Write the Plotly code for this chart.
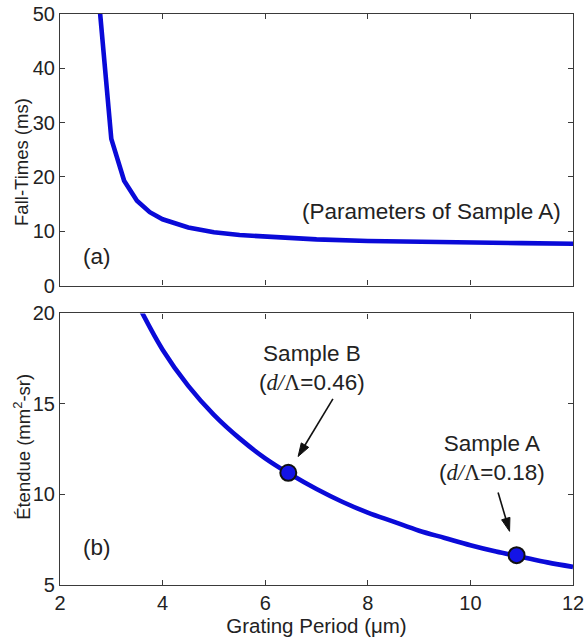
import plotly.graph_objects as go
from plotly.subplots import make_subplots

# (a) fall time vs grating period
period_a = [2.75, 3.0, 3.25, 3.5, 3.75, 4.0, 4.5, 5.0, 5.5, 6.0, 6.5, 7.0, 8.0, 9.0, 10.0, 11.0, 12.0]
fall_time = [53.5, 27.0, 19.3, 15.6, 13.5, 12.2, 10.7, 9.8, 9.3, 9.0, 8.75, 8.5, 8.2, 8.0, 7.9, 7.8, 7.7]

# (b) etendue vs grating period
period_b = [3.5, 4.0, 4.5, 5.0, 5.5, 6.0, 6.5, 7.0, 7.5, 8.0, 8.5, 9.0, 9.5, 10.0, 10.5, 11.0, 11.5, 12.0]
etendue = [20.6, 18.0, 16.0, 14.4, 13.1, 12.0, 11.1, 10.3, 9.6, 9.0, 8.5, 8.0, 7.6, 7.2, 6.85, 6.55, 6.25, 6.0]

# measured samples
sample_names = ["Sample B", "Sample A"]
sample_ratio = ["0.46", "0.18"]
sample_period = [6.45, 10.9]
sample_etendue = [11.2, 6.65]

x_ticks = [2, 4, 6, 8, 10, 12]

BLUE = "#0a0ad8"
FONT = "Liberation Sans, Arial, sans-serif"
SERIF = "Liberation Serif, Times New Roman, serif"
AX = "#3a3a3a"
INK = "#222"

fig = make_subplots(rows=2, cols=1, vertical_spacing=0.049)

fig.add_trace(go.Scatter(x=period_a, y=fall_time, mode="lines",
                         line=dict(color=BLUE, width=4.6), showlegend=False), row=1, col=1)
fig.add_trace(go.Scatter(x=period_b, y=etendue, mode="lines", line_shape="spline",
                         line=dict(color=BLUE, width=4.6), showlegend=False), row=2, col=1)

# pointer arrows: tail near each label, head stopping short of the sample marker
arrow_tail = [(7.32, 15.28), (10.54, 10.11)]
arrow_reach = [0.78, 0.62]
for (tx, ty), px, py, f in zip(arrow_tail, sample_period, sample_etendue, arrow_reach):
    hx = tx + f * (px - tx)
    hy = ty + f * (py - ty)
    fig.add_trace(go.Scatter(x=[tx, hx], y=[ty, hy], mode="lines+markers",
                             line=dict(color="#111", width=1.6),
                             marker=dict(symbol="arrow", size=14, color="#111",
                                         opacity=[0, 1], angleref="previous",
                                         line=dict(color="#111", width=1)),
                             showlegend=False, hoverinfo="skip"), row=2, col=1)

fig.add_trace(go.Scatter(x=sample_period, y=sample_etendue, mode="markers",
                         marker=dict(size=16, color="#1414e6", line=dict(color="#111", width=2)),
                         showlegend=False), row=2, col=1)

axis_style = dict(showline=True, linecolor=AX, linewidth=1.2, mirror="ticks",
                  ticks="inside", ticklen=5, tickcolor=AX, showgrid=False, zeroline=False,
                  automargin=False, tickfont=dict(family=FONT, size=20, color=INK))

fig.update_xaxes(range=[2, 12], tickvals=x_ticks, **axis_style)
fig.update_xaxes(showticklabels=False, row=1, col=1)
fig.update_xaxes(title=dict(text="Grating Period (μm)", font=dict(family=FONT, size=20.5, color=INK),
                            standoff=0), row=2, col=1)
fig.update_yaxes(**axis_style)
fig.update_yaxes(range=[0, 50], tickvals=[0, 10, 20, 30, 40, 50], row=1, col=1)
fig.update_yaxes(range=[5, 20], tickvals=[5, 10, 15, 20], row=2, col=1)

txt = dict(family=FONT, size=22.5, color=INK)
ytitle_font = dict(family=FONT, size=18.5, color=INK)
ann = [
    # vertical axis titles
    dict(x=-0.074, y=0.741, xref="paper", yref="paper", text="Fall-Times (ms)", textangle=-90,
         xanchor="center", yanchor="middle", showarrow=False, font=ytitle_font),
    dict(x=-0.074, y=0.242, xref="paper", yref="paper", text="Étendue (mm<sup>2</sup>-sr)",
         textangle=-90, xanchor="center", yanchor="middle", showarrow=False, font=ytitle_font),
    # panel notes
    dict(x=9.25, y=13.7, xref="x", yref="y", text="(Parameters of Sample A)", showarrow=False, font=txt),
    dict(x=2.72, y=5.3, xref="x", yref="y", text="(a)", showarrow=False, font=txt),
    dict(x=2.72, y=7.06, xref="x2", yref="y2", text="(b)", showarrow=False, font=txt),
]

label_pos = [(6.91, 16.97), (10.42, 12.03)]
for name, ratio, (lx, ly) in zip(sample_names, sample_ratio, label_pos):
    ann.append(dict(x=lx, y=ly, xref="x2", yref="y2", showarrow=False, font=txt,
                    text=f"{name}<br>(<span style='font-family:{SERIF}'><i>d/</i>Λ</span>={ratio})"))

fig.update_layout(width=586, height=641, margin=dict(l=60, r=13, t=14, b=56),
                  paper_bgcolor="white", plot_bgcolor="white", annotations=ann,
                  font=dict(family=FONT, color=INK))

fig.write_html("out.html")
